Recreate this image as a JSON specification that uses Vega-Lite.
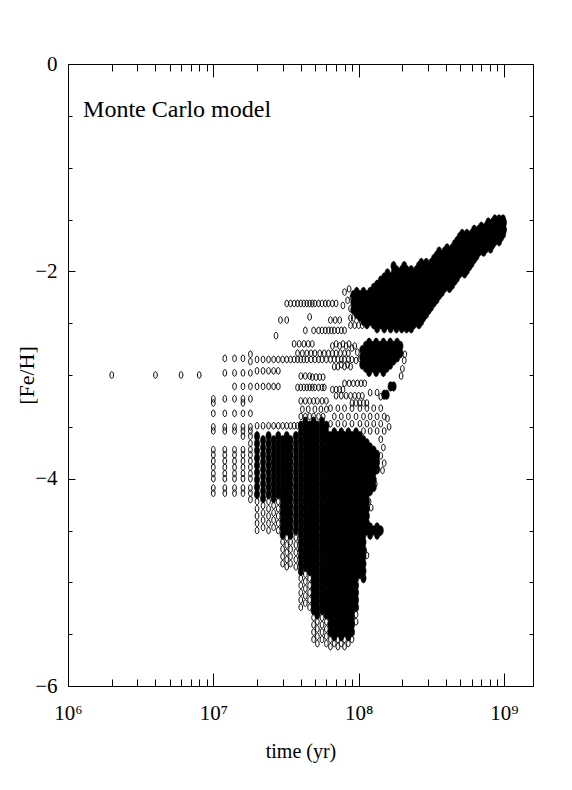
{
"$schema":"https://vega.github.io/schema/vega-lite/v6.json",
"width":465,"height":622,
"autosize":"none",
"padding":{"left":68,"top":64,"right":39,"bottom":104},
"background":"white",
"config":{
 "view":{"stroke":"black","strokeWidth":1},
 "axis":{"grid":false,"domain":false,"ticks":true,"tickColor":"black","tickWidth":1,"tickOpacity":1,"labelColor":"black","labelFont":"Liberation Serif","labelFontSize":21,"titleFont":"Liberation Serif","titleFontWeight":"normal","titleColor":"black","labelFlush":false,"labelOverlap":false,"zindex":1}
},
"datasets":{
"dense":[
{"t":20e6,"f":-3.59},{"t":20e6,"f":-3.66},{"t":20e6,"f":-3.73},{"t":20e6,"f":-3.8},{"t":20e6,"f":-3.87},{"t":20e6,"f":-3.94},{"t":20e6,"f":-4.01},{"t":20e6,"f":-4.08},{"t":20e6,"f":-4.15},
{"t":22e6,"f":-3.63},{"t":22e6,"f":-3.7},{"t":22e6,"f":-3.77},{"t":22e6,"f":-3.84},{"t":22e6,"f":-3.91},{"t":22e6,"f":-3.98},{"t":22e6,"f":-4.05},{"t":22e6,"f":-4.12},{"t":22e6,"f":-4.19},
{"t":24e6,"f":-3.59},{"t":24e6,"f":-3.66},{"t":24e6,"f":-3.73},{"t":24e6,"f":-3.8},{"t":24e6,"f":-3.87},{"t":24e6,"f":-3.94},{"t":24e6,"f":-4.01},{"t":24e6,"f":-4.08},{"t":24e6,"f":-4.15},
{"t":26e6,"f":-3.63},{"t":26e6,"f":-3.7},{"t":26e6,"f":-3.77},{"t":26e6,"f":-3.84},{"t":26e6,"f":-3.91},{"t":26e6,"f":-3.98},{"t":26e6,"f":-4.05},{"t":26e6,"f":-4.12},{"t":26e6,"f":-4.19},
{"t":28e6,"f":-3.59},{"t":28e6,"f":-3.66},{"t":28e6,"f":-3.73},{"t":28e6,"f":-3.8},{"t":28e6,"f":-3.87},{"t":28e6,"f":-3.94},{"t":28e6,"f":-4.01},{"t":28e6,"f":-4.08},{"t":28e6,"f":-4.15},
{"t":30e6,"f":-3.63},{"t":30e6,"f":-3.7},{"t":30e6,"f":-3.77},{"t":30e6,"f":-3.84},{"t":30e6,"f":-3.91},{"t":30e6,"f":-3.98},{"t":30e6,"f":-4.05},{"t":30e6,"f":-4.12},{"t":30e6,"f":-4.19},{"t":30e6,"f":-4.26},{"t":30e6,"f":-4.33},{"t":30e6,"f":-4.4},{"t":30e6,"f":-4.47},{"t":30e6,"f":-4.54},
{"t":32e6,"f":-3.59},{"t":32e6,"f":-3.66},{"t":32e6,"f":-3.73},{"t":32e6,"f":-3.8},{"t":32e6,"f":-3.87},{"t":32e6,"f":-3.94},{"t":32e6,"f":-4.01},{"t":32e6,"f":-4.08},{"t":32e6,"f":-4.15},{"t":32e6,"f":-4.22},{"t":32e6,"f":-4.29},{"t":32e6,"f":-4.36},{"t":32e6,"f":-4.43},{"t":32e6,"f":-4.5},
{"t":34e6,"f":-3.63},{"t":34e6,"f":-3.7},{"t":34e6,"f":-3.77},{"t":34e6,"f":-3.84},{"t":34e6,"f":-3.91},{"t":34e6,"f":-3.98},{"t":34e6,"f":-4.05},{"t":34e6,"f":-4.12},{"t":34e6,"f":-4.19},{"t":34e6,"f":-4.26},{"t":34e6,"f":-4.33},{"t":34e6,"f":-4.4},{"t":34e6,"f":-4.47},{"t":34e6,"f":-4.54},
{"t":37e6,"f":-3.59},{"t":37e6,"f":-3.66},{"t":37e6,"f":-3.73},{"t":37e6,"f":-3.8},{"t":37e6,"f":-3.87},{"t":37e6,"f":-3.94},{"t":37e6,"f":-4.01},{"t":37e6,"f":-4.08},{"t":37e6,"f":-4.15},{"t":37e6,"f":-4.22},{"t":37e6,"f":-4.29},{"t":37e6,"f":-4.36},{"t":37e6,"f":-4.43},{"t":37e6,"f":-4.5},
{"t":40e6,"f":-3.49},{"t":40e6,"f":-3.56},{"t":40e6,"f":-3.63},{"t":40e6,"f":-3.7},{"t":40e6,"f":-3.77},{"t":40e6,"f":-3.84},{"t":40e6,"f":-3.91},{"t":40e6,"f":-3.98},{"t":40e6,"f":-4.05},{"t":40e6,"f":-4.12},{"t":40e6,"f":-4.19},{"t":40e6,"f":-4.26},{"t":40e6,"f":-4.33},{"t":40e6,"f":-4.4},{"t":40e6,"f":-4.47},{"t":40e6,"f":-4.54},{"t":40e6,"f":-4.61},{"t":40e6,"f":-4.68},{"t":40e6,"f":-4.75},{"t":40e6,"f":-4.82},{"t":40e6,"f":-4.89},
{"t":43e6,"f":-3.45},{"t":43e6,"f":-3.52},{"t":43e6,"f":-3.59},{"t":43e6,"f":-3.66},{"t":43e6,"f":-3.73},{"t":43e6,"f":-3.8},{"t":43e6,"f":-3.87},{"t":43e6,"f":-3.94},{"t":43e6,"f":-4.01},{"t":43e6,"f":-4.08},{"t":43e6,"f":-4.15},{"t":43e6,"f":-4.22},{"t":43e6,"f":-4.29},{"t":43e6,"f":-4.36},{"t":43e6,"f":-4.43},{"t":43e6,"f":-4.5},{"t":43e6,"f":-4.57},{"t":43e6,"f":-4.64},{"t":43e6,"f":-4.71},{"t":43e6,"f":-4.78},{"t":43e6,"f":-4.85},
{"t":46e6,"f":-3.49},{"t":46e6,"f":-3.56},{"t":46e6,"f":-3.63},{"t":46e6,"f":-3.7},{"t":46e6,"f":-3.77},{"t":46e6,"f":-3.84},{"t":46e6,"f":-3.91},{"t":46e6,"f":-3.98},{"t":46e6,"f":-4.05},{"t":46e6,"f":-4.12},{"t":46e6,"f":-4.19},{"t":46e6,"f":-4.26},{"t":46e6,"f":-4.33},{"t":46e6,"f":-4.4},{"t":46e6,"f":-4.47},{"t":46e6,"f":-4.54},{"t":46e6,"f":-4.61},{"t":46e6,"f":-4.68},{"t":46e6,"f":-4.75},{"t":46e6,"f":-4.82},{"t":46e6,"f":-4.89},
{"t":49e6,"f":-3.45},{"t":49e6,"f":-3.52},{"t":49e6,"f":-3.59},{"t":49e6,"f":-3.66},{"t":49e6,"f":-3.73},{"t":49e6,"f":-3.8},{"t":49e6,"f":-3.87},{"t":49e6,"f":-3.94},{"t":49e6,"f":-4.01},{"t":49e6,"f":-4.08},{"t":49e6,"f":-4.15},{"t":49e6,"f":-4.22},{"t":49e6,"f":-4.29},{"t":49e6,"f":-4.36},{"t":49e6,"f":-4.43},{"t":49e6,"f":-4.5},{"t":49e6,"f":-4.57},{"t":49e6,"f":-4.64},{"t":49e6,"f":-4.71},{"t":49e6,"f":-4.78},{"t":49e6,"f":-4.85},{"t":49e6,"f":-4.92},{"t":49e6,"f":-4.99},{"t":49e6,"f":-5.06},{"t":49e6,"f":-5.13},{"t":49e6,"f":-5.2},{"t":49e6,"f":-5.27},
{"t":52e6,"f":-3.49},{"t":52e6,"f":-3.56},{"t":52e6,"f":-3.63},{"t":52e6,"f":-3.7},{"t":52e6,"f":-3.77},{"t":52e6,"f":-3.84},{"t":52e6,"f":-3.91},{"t":52e6,"f":-3.98},{"t":52e6,"f":-4.05},{"t":52e6,"f":-4.12},{"t":52e6,"f":-4.19},{"t":52e6,"f":-4.26},{"t":52e6,"f":-4.33},{"t":52e6,"f":-4.4},{"t":52e6,"f":-4.47},{"t":52e6,"f":-4.54},{"t":52e6,"f":-4.61},{"t":52e6,"f":-4.68},{"t":52e6,"f":-4.75},{"t":52e6,"f":-4.82},{"t":52e6,"f":-4.89},{"t":52e6,"f":-4.96},{"t":52e6,"f":-5.03},{"t":52e6,"f":-5.1},{"t":52e6,"f":-5.17},{"t":52e6,"f":-5.24},{"t":52e6,"f":-5.31},
{"t":56e6,"f":-3.45},{"t":56e6,"f":-3.52},{"t":56e6,"f":-3.59},{"t":56e6,"f":-3.66},{"t":56e6,"f":-3.73},{"t":56e6,"f":-3.8},{"t":56e6,"f":-3.87},{"t":56e6,"f":-3.94},{"t":56e6,"f":-4.01},{"t":56e6,"f":-4.08},{"t":56e6,"f":-4.15},{"t":56e6,"f":-4.22},{"t":56e6,"f":-4.29},{"t":56e6,"f":-4.36},{"t":56e6,"f":-4.43},{"t":56e6,"f":-4.5},{"t":56e6,"f":-4.57},{"t":56e6,"f":-4.64},{"t":56e6,"f":-4.71},{"t":56e6,"f":-4.78},{"t":56e6,"f":-4.85},{"t":56e6,"f":-4.92},{"t":56e6,"f":-4.99},{"t":56e6,"f":-5.06},{"t":56e6,"f":-5.13},{"t":56e6,"f":-5.2},{"t":56e6,"f":-5.27},
{"t":60e6,"f":-3.49},{"t":60e6,"f":-3.56},{"t":60e6,"f":-3.63},{"t":60e6,"f":-3.7},{"t":60e6,"f":-3.77},{"t":60e6,"f":-3.84},{"t":60e6,"f":-3.91},{"t":60e6,"f":-3.98},{"t":60e6,"f":-4.05},{"t":60e6,"f":-4.12},{"t":60e6,"f":-4.19},{"t":60e6,"f":-4.26},{"t":60e6,"f":-4.33},{"t":60e6,"f":-4.4},{"t":60e6,"f":-4.47},{"t":60e6,"f":-4.54},{"t":60e6,"f":-4.61},{"t":60e6,"f":-4.68},{"t":60e6,"f":-4.75},{"t":60e6,"f":-4.82},{"t":60e6,"f":-4.89},{"t":60e6,"f":-4.96},{"t":60e6,"f":-5.03},{"t":60e6,"f":-5.1},{"t":60e6,"f":-5.17},{"t":60e6,"f":-5.24},{"t":60e6,"f":-5.31},
{"t":64e6,"f":-3.59},{"t":64e6,"f":-3.66},{"t":64e6,"f":-3.73},{"t":64e6,"f":-3.8},{"t":64e6,"f":-3.87},{"t":64e6,"f":-3.94},{"t":64e6,"f":-4.01},{"t":64e6,"f":-4.08},{"t":64e6,"f":-4.15},{"t":64e6,"f":-4.22},{"t":64e6,"f":-4.29},{"t":64e6,"f":-4.36},{"t":64e6,"f":-4.43},{"t":64e6,"f":-4.5},{"t":64e6,"f":-4.57},{"t":64e6,"f":-4.64},{"t":64e6,"f":-4.71},{"t":64e6,"f":-4.78},{"t":64e6,"f":-4.85},{"t":64e6,"f":-4.92},{"t":64e6,"f":-4.99},{"t":64e6,"f":-5.06},{"t":64e6,"f":-5.13},{"t":64e6,"f":-5.2},{"t":64e6,"f":-5.27},{"t":64e6,"f":-5.34},{"t":64e6,"f":-5.41},{"t":64e6,"f":-5.48},
{"t":68e6,"f":-3.56},{"t":68e6,"f":-3.63},{"t":68e6,"f":-3.7},{"t":68e6,"f":-3.77},{"t":68e6,"f":-3.84},{"t":68e6,"f":-3.91},{"t":68e6,"f":-3.98},{"t":68e6,"f":-4.05},{"t":68e6,"f":-4.12},{"t":68e6,"f":-4.19},{"t":68e6,"f":-4.26},{"t":68e6,"f":-4.33},{"t":68e6,"f":-4.4},{"t":68e6,"f":-4.47},{"t":68e6,"f":-4.54},{"t":68e6,"f":-4.61},{"t":68e6,"f":-4.68},{"t":68e6,"f":-4.75},{"t":68e6,"f":-4.82},{"t":68e6,"f":-4.89},{"t":68e6,"f":-4.96},{"t":68e6,"f":-5.03},{"t":68e6,"f":-5.1},{"t":68e6,"f":-5.17},{"t":68e6,"f":-5.24},{"t":68e6,"f":-5.31},{"t":68e6,"f":-5.38},{"t":68e6,"f":-5.45},{"t":68e6,"f":-5.52},
{"t":72e6,"f":-3.59},{"t":72e6,"f":-3.66},{"t":72e6,"f":-3.73},{"t":72e6,"f":-3.8},{"t":72e6,"f":-3.87},{"t":72e6,"f":-3.94},{"t":72e6,"f":-4.01},{"t":72e6,"f":-4.08},{"t":72e6,"f":-4.15},{"t":72e6,"f":-4.22},{"t":72e6,"f":-4.29},{"t":72e6,"f":-4.36},{"t":72e6,"f":-4.43},{"t":72e6,"f":-4.5},{"t":72e6,"f":-4.57},{"t":72e6,"f":-4.64},{"t":72e6,"f":-4.71},{"t":72e6,"f":-4.78},{"t":72e6,"f":-4.85},{"t":72e6,"f":-4.92},{"t":72e6,"f":-4.99},{"t":72e6,"f":-5.06},{"t":72e6,"f":-5.13},{"t":72e6,"f":-5.2},{"t":72e6,"f":-5.27},{"t":72e6,"f":-5.34},{"t":72e6,"f":-5.41},{"t":72e6,"f":-5.48},
{"t":76e6,"f":-3.56},{"t":76e6,"f":-3.63},{"t":76e6,"f":-3.7},{"t":76e6,"f":-3.77},{"t":76e6,"f":-3.84},{"t":76e6,"f":-3.91},{"t":76e6,"f":-3.98},{"t":76e6,"f":-4.05},{"t":76e6,"f":-4.12},{"t":76e6,"f":-4.19},{"t":76e6,"f":-4.26},{"t":76e6,"f":-4.33},{"t":76e6,"f":-4.4},{"t":76e6,"f":-4.47},{"t":76e6,"f":-4.54},{"t":76e6,"f":-4.61},{"t":76e6,"f":-4.68},{"t":76e6,"f":-4.75},{"t":76e6,"f":-4.82},{"t":76e6,"f":-4.89},{"t":76e6,"f":-4.96},{"t":76e6,"f":-5.03},{"t":76e6,"f":-5.1},{"t":76e6,"f":-5.17},{"t":76e6,"f":-5.24},{"t":76e6,"f":-5.31},{"t":76e6,"f":-5.38},{"t":76e6,"f":-5.45},{"t":76e6,"f":-5.52},
{"t":80e6,"f":-3.59},{"t":80e6,"f":-3.66},{"t":80e6,"f":-3.73},{"t":80e6,"f":-3.8},{"t":80e6,"f":-3.87},{"t":80e6,"f":-3.94},{"t":80e6,"f":-4.01},{"t":80e6,"f":-4.08},{"t":80e6,"f":-4.15},{"t":80e6,"f":-4.22},{"t":80e6,"f":-4.29},{"t":80e6,"f":-4.36},{"t":80e6,"f":-4.43},{"t":80e6,"f":-4.5},{"t":80e6,"f":-4.57},{"t":80e6,"f":-4.64},{"t":80e6,"f":-4.71},{"t":80e6,"f":-4.78},{"t":80e6,"f":-4.85},{"t":80e6,"f":-4.92},{"t":80e6,"f":-4.99},{"t":80e6,"f":-5.06},{"t":80e6,"f":-5.13},{"t":80e6,"f":-5.2},{"t":80e6,"f":-5.27},{"t":80e6,"f":-5.34},{"t":80e6,"f":-5.41},{"t":80e6,"f":-5.48},
{"t":85e6,"f":-3.56},{"t":85e6,"f":-3.63},{"t":85e6,"f":-3.7},{"t":85e6,"f":-3.77},{"t":85e6,"f":-3.84},{"t":85e6,"f":-3.91},{"t":85e6,"f":-3.98},{"t":85e6,"f":-4.05},{"t":85e6,"f":-4.12},{"t":85e6,"f":-4.19},{"t":85e6,"f":-4.26},{"t":85e6,"f":-4.33},{"t":85e6,"f":-4.4},{"t":85e6,"f":-4.47},{"t":85e6,"f":-4.54},{"t":85e6,"f":-4.61},{"t":85e6,"f":-4.68},{"t":85e6,"f":-4.75},{"t":85e6,"f":-4.82},{"t":85e6,"f":-4.89},{"t":85e6,"f":-4.96},{"t":85e6,"f":-5.03},{"t":85e6,"f":-5.1},{"t":85e6,"f":-5.17},{"t":85e6,"f":-5.24},{"t":85e6,"f":-5.31},{"t":85e6,"f":-5.38},{"t":85e6,"f":-5.45},{"t":85e6,"f":-5.52},
{"t":90e6,"f":-3.59},{"t":90e6,"f":-3.66},{"t":90e6,"f":-3.73},{"t":90e6,"f":-3.8},{"t":90e6,"f":-3.87},{"t":90e6,"f":-3.94},{"t":90e6,"f":-4.01},{"t":90e6,"f":-4.08},{"t":90e6,"f":-4.15},{"t":90e6,"f":-4.22},{"t":90e6,"f":-4.29},{"t":90e6,"f":-4.36},{"t":90e6,"f":-4.43},{"t":90e6,"f":-4.5},{"t":90e6,"f":-4.57},{"t":90e6,"f":-4.64},{"t":90e6,"f":-4.71},{"t":90e6,"f":-4.78},{"t":90e6,"f":-4.85},{"t":90e6,"f":-4.92},{"t":90e6,"f":-4.99},{"t":90e6,"f":-5.06},{"t":90e6,"f":-5.13},{"t":90e6,"f":-5.2},{"t":90e6,"f":-5.27},{"t":90e6,"f":-5.34},{"t":90e6,"f":-5.41},{"t":90e6,"f":-5.48},
{"t":96e6,"f":-3.56},{"t":96e6,"f":-3.63},{"t":96e6,"f":-3.7},{"t":96e6,"f":-3.77},{"t":96e6,"f":-3.84},{"t":96e6,"f":-3.91},{"t":96e6,"f":-3.98},{"t":96e6,"f":-4.05},{"t":96e6,"f":-4.12},{"t":96e6,"f":-4.19},{"t":96e6,"f":-4.26},{"t":96e6,"f":-4.33},{"t":96e6,"f":-4.4},{"t":96e6,"f":-4.47},{"t":96e6,"f":-4.54},{"t":96e6,"f":-4.61},{"t":96e6,"f":-4.68},{"t":96e6,"f":-4.75},{"t":96e6,"f":-4.82},{"t":96e6,"f":-4.89},{"t":96e6,"f":-4.96},{"t":96e6,"f":-5.03},{"t":96e6,"f":-5.1},{"t":96e6,"f":-5.17},{"t":96e6,"f":-5.24},
{"t":102e6,"f":-3.59},{"t":102e6,"f":-3.66},{"t":102e6,"f":-3.73},{"t":102e6,"f":-3.8},{"t":102e6,"f":-3.87},{"t":102e6,"f":-3.94},{"t":102e6,"f":-4.01},{"t":102e6,"f":-4.08},{"t":102e6,"f":-4.15},{"t":102e6,"f":-4.22},{"t":102e6,"f":-4.29},{"t":102e6,"f":-4.36},{"t":102e6,"f":-4.43},{"t":102e6,"f":-4.5},{"t":102e6,"f":-4.57},{"t":102e6,"f":-4.64},{"t":102e6,"f":-4.71},{"t":102e6,"f":-4.78},{"t":102e6,"f":-4.85},{"t":102e6,"f":-4.92},
{"t":108e6,"f":-3.63},{"t":108e6,"f":-3.7},{"t":108e6,"f":-3.77},{"t":108e6,"f":-3.84},{"t":108e6,"f":-3.91},{"t":108e6,"f":-3.98},{"t":108e6,"f":-4.05},{"t":108e6,"f":-4.12},{"t":108e6,"f":-4.19},{"t":108e6,"f":-4.26},{"t":108e6,"f":-4.33},{"t":108e6,"f":-4.4},{"t":108e6,"f":-4.47},{"t":108e6,"f":-4.54},{"t":108e6,"f":-4.61},{"t":108e6,"f":-4.68},{"t":108e6,"f":-4.75},{"t":108e6,"f":-4.82},{"t":108e6,"f":-4.89},{"t":108e6,"f":-4.96},
{"t":114e6,"f":-3.66},{"t":114e6,"f":-3.73},{"t":114e6,"f":-3.8},{"t":114e6,"f":-3.87},{"t":114e6,"f":-3.94},{"t":114e6,"f":-4.01},{"t":114e6,"f":-4.08},{"t":114e6,"f":-4.15},{"t":114e6,"f":-4.22},{"t":114e6,"f":-4.29},{"t":114e6,"f":-4.36},{"t":114e6,"f":-4.43},{"t":114e6,"f":-4.5},
{"t":120e6,"f":-3.7},{"t":120e6,"f":-3.77},{"t":120e6,"f":-3.84},{"t":120e6,"f":-3.91},{"t":120e6,"f":-3.98},{"t":120e6,"f":-4.05},{"t":120e6,"f":-4.12},{"t":120e6,"f":-4.47},{"t":120e6,"f":-4.54},
{"t":127e6,"f":-3.73},{"t":127e6,"f":-3.8},{"t":127e6,"f":-3.87},{"t":127e6,"f":-3.94},{"t":127e6,"f":-4.01},{"t":127e6,"f":-4.08},{"t":127e6,"f":-4.5},
{"t":134e6,"f":-3.77},{"t":134e6,"f":-3.84},{"t":134e6,"f":-3.91},{"t":134e6,"f":-4.47},{"t":134e6,"f":-4.54},
{"t":142e6,"f":-4.5},
{"t":92e6,"f":-2.23},{"t":92e6,"f":-2.3},{"t":92e6,"f":-2.37},
{"t":97e6,"f":-2.2},{"t":97e6,"f":-2.27},{"t":97e6,"f":-2.34},{"t":97e6,"f":-2.41},
{"t":102e6,"f":-2.23},{"t":102e6,"f":-2.3},{"t":102e6,"f":-2.37},{"t":102e6,"f":-2.44},
{"t":108e6,"f":-2.2},{"t":108e6,"f":-2.27},{"t":108e6,"f":-2.34},{"t":108e6,"f":-2.41},{"t":108e6,"f":-2.48},
{"t":114e6,"f":-2.23},{"t":114e6,"f":-2.3},{"t":114e6,"f":-2.37},{"t":114e6,"f":-2.44},{"t":114e6,"f":-2.51},
{"t":120e6,"f":-2.2},{"t":120e6,"f":-2.27},{"t":120e6,"f":-2.34},{"t":120e6,"f":-2.41},{"t":120e6,"f":-2.48},
{"t":127e6,"f":-2.16},{"t":127e6,"f":-2.23},{"t":127e6,"f":-2.3},{"t":127e6,"f":-2.37},{"t":127e6,"f":-2.44},{"t":127e6,"f":-2.51},
{"t":134e6,"f":-2.13},{"t":134e6,"f":-2.2},{"t":134e6,"f":-2.27},{"t":134e6,"f":-2.34},{"t":134e6,"f":-2.41},{"t":134e6,"f":-2.48},{"t":134e6,"f":-2.55},
{"t":142e6,"f":-2.09},{"t":142e6,"f":-2.16},{"t":142e6,"f":-2.23},{"t":142e6,"f":-2.3},{"t":142e6,"f":-2.37},{"t":142e6,"f":-2.44},{"t":142e6,"f":-2.51},
{"t":150e6,"f":-2.06},{"t":150e6,"f":-2.13},{"t":150e6,"f":-2.2},{"t":150e6,"f":-2.27},{"t":150e6,"f":-2.34},{"t":150e6,"f":-2.41},{"t":150e6,"f":-2.48},{"t":150e6,"f":-2.55},
{"t":158e6,"f":-2.02},{"t":158e6,"f":-2.09},{"t":158e6,"f":-2.16},{"t":158e6,"f":-2.23},{"t":158e6,"f":-2.3},{"t":158e6,"f":-2.37},{"t":158e6,"f":-2.44},{"t":158e6,"f":-2.51},
{"t":166e6,"f":-2.06},{"t":166e6,"f":-2.13},{"t":166e6,"f":-2.2},{"t":166e6,"f":-2.27},{"t":166e6,"f":-2.34},{"t":166e6,"f":-2.41},{"t":166e6,"f":-2.48},{"t":166e6,"f":-2.55},
{"t":174e6,"f":-1.95},{"t":174e6,"f":-2.02},{"t":174e6,"f":-2.09},{"t":174e6,"f":-2.16},{"t":174e6,"f":-2.23},{"t":174e6,"f":-2.3},{"t":174e6,"f":-2.37},{"t":174e6,"f":-2.44},{"t":174e6,"f":-2.51},
{"t":182e6,"f":-1.99},{"t":182e6,"f":-2.06},{"t":182e6,"f":-2.13},{"t":182e6,"f":-2.2},{"t":182e6,"f":-2.27},{"t":182e6,"f":-2.34},{"t":182e6,"f":-2.41},{"t":182e6,"f":-2.48},{"t":182e6,"f":-2.55},
{"t":190e6,"f":-2.02},{"t":190e6,"f":-2.09},{"t":190e6,"f":-2.16},{"t":190e6,"f":-2.23},{"t":190e6,"f":-2.3},{"t":190e6,"f":-2.37},{"t":190e6,"f":-2.44},{"t":190e6,"f":-2.51},
{"t":198e6,"f":-1.99},{"t":198e6,"f":-2.06},{"t":198e6,"f":-2.13},{"t":198e6,"f":-2.2},{"t":198e6,"f":-2.27},{"t":198e6,"f":-2.34},{"t":198e6,"f":-2.41},{"t":198e6,"f":-2.48},{"t":198e6,"f":-2.55},
{"t":206e6,"f":-1.95},{"t":206e6,"f":-2.02},{"t":206e6,"f":-2.09},{"t":206e6,"f":-2.16},{"t":206e6,"f":-2.23},{"t":206e6,"f":-2.3},{"t":206e6,"f":-2.37},{"t":206e6,"f":-2.44},{"t":206e6,"f":-2.51},
{"t":214e6,"f":-1.99},{"t":214e6,"f":-2.06},{"t":214e6,"f":-2.13},{"t":214e6,"f":-2.2},{"t":214e6,"f":-2.27},{"t":214e6,"f":-2.34},{"t":214e6,"f":-2.41},{"t":214e6,"f":-2.48},{"t":214e6,"f":-2.55},
{"t":222e6,"f":-2.02},{"t":222e6,"f":-2.09},{"t":222e6,"f":-2.16},{"t":222e6,"f":-2.23},{"t":222e6,"f":-2.3},{"t":222e6,"f":-2.37},{"t":222e6,"f":-2.44},{"t":222e6,"f":-2.51},
{"t":230e6,"f":-1.99},{"t":230e6,"f":-2.06},{"t":230e6,"f":-2.13},{"t":230e6,"f":-2.2},{"t":230e6,"f":-2.27},{"t":230e6,"f":-2.34},{"t":230e6,"f":-2.41},{"t":230e6,"f":-2.48},{"t":230e6,"f":-2.55},
{"t":240e6,"f":-2.02},{"t":240e6,"f":-2.09},{"t":240e6,"f":-2.16},{"t":240e6,"f":-2.23},{"t":240e6,"f":-2.3},{"t":240e6,"f":-2.37},{"t":240e6,"f":-2.44},{"t":240e6,"f":-2.51},
{"t":250e6,"f":-1.99},{"t":250e6,"f":-2.06},{"t":250e6,"f":-2.13},{"t":250e6,"f":-2.2},{"t":250e6,"f":-2.27},{"t":250e6,"f":-2.34},{"t":250e6,"f":-2.41},{"t":250e6,"f":-2.48},
{"t":260e6,"f":-1.95},{"t":260e6,"f":-2.02},{"t":260e6,"f":-2.09},{"t":260e6,"f":-2.16},{"t":260e6,"f":-2.23},{"t":260e6,"f":-2.3},{"t":260e6,"f":-2.37},{"t":260e6,"f":-2.44},{"t":260e6,"f":-2.51},
{"t":270e6,"f":-1.92},{"t":270e6,"f":-1.99},{"t":270e6,"f":-2.06},{"t":270e6,"f":-2.13},{"t":270e6,"f":-2.2},{"t":270e6,"f":-2.27},{"t":270e6,"f":-2.34},{"t":270e6,"f":-2.41},{"t":270e6,"f":-2.48},
{"t":280e6,"f":-1.95},{"t":280e6,"f":-2.02},{"t":280e6,"f":-2.09},{"t":280e6,"f":-2.16},{"t":280e6,"f":-2.23},{"t":280e6,"f":-2.3},{"t":280e6,"f":-2.37},{"t":280e6,"f":-2.44},
{"t":292e6,"f":-1.92},{"t":292e6,"f":-1.99},{"t":292e6,"f":-2.06},{"t":292e6,"f":-2.13},{"t":292e6,"f":-2.2},{"t":292e6,"f":-2.27},{"t":292e6,"f":-2.34},{"t":292e6,"f":-2.41},
{"t":304e6,"f":-1.95},{"t":304e6,"f":-2.02},{"t":304e6,"f":-2.09},{"t":304e6,"f":-2.16},{"t":304e6,"f":-2.23},{"t":304e6,"f":-2.3},{"t":304e6,"f":-2.37},
{"t":316e6,"f":-1.92},{"t":316e6,"f":-1.99},{"t":316e6,"f":-2.06},{"t":316e6,"f":-2.13},{"t":316e6,"f":-2.2},{"t":316e6,"f":-2.27},{"t":316e6,"f":-2.34},
{"t":330e6,"f":-1.88},{"t":330e6,"f":-1.95},{"t":330e6,"f":-2.02},{"t":330e6,"f":-2.09},{"t":330e6,"f":-2.16},{"t":330e6,"f":-2.23},{"t":330e6,"f":-2.3},
{"t":344e6,"f":-1.85},{"t":344e6,"f":-1.92},{"t":344e6,"f":-1.99},{"t":344e6,"f":-2.06},{"t":344e6,"f":-2.13},{"t":344e6,"f":-2.2},{"t":344e6,"f":-2.27},
{"t":358e6,"f":-1.81},{"t":358e6,"f":-1.88},{"t":358e6,"f":-1.95},{"t":358e6,"f":-2.02},{"t":358e6,"f":-2.09},{"t":358e6,"f":-2.16},{"t":358e6,"f":-2.23},
{"t":374e6,"f":-1.85},{"t":374e6,"f":-1.92},{"t":374e6,"f":-1.99},{"t":374e6,"f":-2.06},{"t":374e6,"f":-2.13},{"t":374e6,"f":-2.2},
{"t":390e6,"f":-1.81},{"t":390e6,"f":-1.88},{"t":390e6,"f":-1.95},{"t":390e6,"f":-2.02},{"t":390e6,"f":-2.09},{"t":390e6,"f":-2.16},
{"t":406e6,"f":-1.78},{"t":406e6,"f":-1.85},{"t":406e6,"f":-1.92},{"t":406e6,"f":-1.99},{"t":406e6,"f":-2.06},{"t":406e6,"f":-2.13},
{"t":422e6,"f":-1.81},{"t":422e6,"f":-1.88},{"t":422e6,"f":-1.95},{"t":422e6,"f":-2.02},{"t":422e6,"f":-2.09},{"t":422e6,"f":-2.16},
{"t":440e6,"f":-1.78},{"t":440e6,"f":-1.85},{"t":440e6,"f":-1.92},{"t":440e6,"f":-1.99},{"t":440e6,"f":-2.06},{"t":440e6,"f":-2.13},
{"t":458e6,"f":-1.74},{"t":458e6,"f":-1.81},{"t":458e6,"f":-1.88},{"t":458e6,"f":-1.95},{"t":458e6,"f":-2.02},{"t":458e6,"f":-2.09},
{"t":476e6,"f":-1.71},{"t":476e6,"f":-1.78},{"t":476e6,"f":-1.85},{"t":476e6,"f":-1.92},{"t":476e6,"f":-1.99},{"t":476e6,"f":-2.06},
{"t":496e6,"f":-1.67},{"t":496e6,"f":-1.74},{"t":496e6,"f":-1.81},{"t":496e6,"f":-1.88},{"t":496e6,"f":-1.95},{"t":496e6,"f":-2.02},
{"t":516e6,"f":-1.64},{"t":516e6,"f":-1.71},{"t":516e6,"f":-1.78},{"t":516e6,"f":-1.85},{"t":516e6,"f":-1.92},{"t":516e6,"f":-1.99},
{"t":536e6,"f":-1.67},{"t":536e6,"f":-1.74},{"t":536e6,"f":-1.81},{"t":536e6,"f":-1.88},{"t":536e6,"f":-1.95},{"t":536e6,"f":-2.02},
{"t":556e6,"f":-1.64},{"t":556e6,"f":-1.71},{"t":556e6,"f":-1.78},{"t":556e6,"f":-1.85},{"t":556e6,"f":-1.92},{"t":556e6,"f":-1.99},
{"t":578e6,"f":-1.67},{"t":578e6,"f":-1.74},{"t":578e6,"f":-1.81},{"t":578e6,"f":-1.88},{"t":578e6,"f":-1.95},
{"t":600e6,"f":-1.64},{"t":600e6,"f":-1.71},{"t":600e6,"f":-1.78},{"t":600e6,"f":-1.85},{"t":600e6,"f":-1.92},
{"t":624e6,"f":-1.6},{"t":624e6,"f":-1.67},{"t":624e6,"f":-1.74},{"t":624e6,"f":-1.81},{"t":624e6,"f":-1.88},
{"t":648e6,"f":-1.64},{"t":648e6,"f":-1.71},{"t":648e6,"f":-1.78},{"t":648e6,"f":-1.85},
{"t":672e6,"f":-1.6},{"t":672e6,"f":-1.67},{"t":672e6,"f":-1.74},{"t":672e6,"f":-1.81},
{"t":698e6,"f":-1.57},{"t":698e6,"f":-1.64},{"t":698e6,"f":-1.71},{"t":698e6,"f":-1.78},
{"t":724e6,"f":-1.6},{"t":724e6,"f":-1.67},{"t":724e6,"f":-1.74},{"t":724e6,"f":-1.81},
{"t":752e6,"f":-1.57},{"t":752e6,"f":-1.64},{"t":752e6,"f":-1.71},{"t":752e6,"f":-1.78},
{"t":780e6,"f":-1.53},{"t":780e6,"f":-1.6},{"t":780e6,"f":-1.67},{"t":780e6,"f":-1.74},
{"t":808e6,"f":-1.57},{"t":808e6,"f":-1.64},{"t":808e6,"f":-1.71},{"t":808e6,"f":-1.78},
{"t":836e6,"f":-1.53},{"t":836e6,"f":-1.6},{"t":836e6,"f":-1.67},{"t":836e6,"f":-1.74},
{"t":866e6,"f":-1.5},{"t":866e6,"f":-1.57},{"t":866e6,"f":-1.64},{"t":866e6,"f":-1.71},
{"t":896e6,"f":-1.53},{"t":896e6,"f":-1.6},{"t":896e6,"f":-1.67},
{"t":926e6,"f":-1.5},{"t":926e6,"f":-1.57},{"t":926e6,"f":-1.64},{"t":926e6,"f":-1.71},
{"t":956e6,"f":-1.53},{"t":956e6,"f":-1.6},{"t":956e6,"f":-1.67},
{"t":986e6,"f":-1.5},{"t":986e6,"f":-1.57},{"t":986e6,"f":-1.64},
{"t":1000e6,"f":-1.53},{"t":1000e6,"f":-1.6},
{"t":106e6,"f":-2.76},{"t":106e6,"f":-2.83},{"t":106e6,"f":-2.9},
{"t":112e6,"f":-2.72},{"t":112e6,"f":-2.79},{"t":112e6,"f":-2.86},{"t":112e6,"f":-2.93},
{"t":118e6,"f":-2.69},{"t":118e6,"f":-2.76},{"t":118e6,"f":-2.83},{"t":118e6,"f":-2.9},{"t":118e6,"f":-2.97},
{"t":125e6,"f":-2.72},{"t":125e6,"f":-2.79},{"t":125e6,"f":-2.86},{"t":125e6,"f":-2.93},
{"t":132e6,"f":-2.69},{"t":132e6,"f":-2.76},{"t":132e6,"f":-2.83},{"t":132e6,"f":-2.9},{"t":132e6,"f":-2.97},
{"t":140e6,"f":-2.72},{"t":140e6,"f":-2.79},{"t":140e6,"f":-2.86},{"t":140e6,"f":-2.93},
{"t":148e6,"f":-2.69},{"t":148e6,"f":-2.76},{"t":148e6,"f":-2.83},{"t":148e6,"f":-2.9},{"t":148e6,"f":-2.97},
{"t":156e6,"f":-2.72},{"t":156e6,"f":-2.79},{"t":156e6,"f":-2.86},{"t":156e6,"f":-2.93},
{"t":165e6,"f":-2.69},{"t":165e6,"f":-2.76},{"t":165e6,"f":-2.83},{"t":165e6,"f":-2.9},
{"t":174e6,"f":-2.72},{"t":174e6,"f":-2.79},{"t":174e6,"f":-2.86},
{"t":184e6,"f":-2.69},{"t":184e6,"f":-2.76},{"t":184e6,"f":-2.83},
{"t":194e6,"f":-2.72},{"t":194e6,"f":-2.79},
{"t":166e6,"f":-3.11},{"t":174e6,"f":-3.11},{"t":150e6,"f":-3.19},{"t":156e6,"f":-3.19}
],
"stars":[
{"t":2e6,"f":-3},{"t":4e6,"f":-3},{"t":6e6,"f":-3},{"t":8e6,"f":-3},
{"t":10e6,"f":-3.23},{"t":10e6,"f":-3.27},{"t":10e6,"f":-3.37},{"t":10e6,"f":-3.5},{"t":10e6,"f":-3.54},{"t":10e6,"f":-3.72},{"t":10e6,"f":-3.77},{"t":10e6,"f":-3.83},{"t":10e6,"f":-3.89},{"t":10e6,"f":-3.95},{"t":10e6,"f":-4},{"t":10e6,"f":-4.09},{"t":10e6,"f":-4.14},
{"t":12e6,"f":-2.84},{"t":12e6,"f":-2.98},{"t":12e6,"f":-3.23},{"t":12e6,"f":-3.37},{"t":12e6,"f":-3.5},{"t":12e6,"f":-3.54},{"t":12e6,"f":-3.72},{"t":12e6,"f":-3.77},{"t":12e6,"f":-3.83},{"t":12e6,"f":-3.89},{"t":12e6,"f":-3.95},{"t":12e6,"f":-4},{"t":12e6,"f":-4.09},{"t":12e6,"f":-4.14},
{"t":14e6,"f":-2.84},{"t":14e6,"f":-2.98},{"t":14e6,"f":-3.11},{"t":14e6,"f":-3.23},{"t":14e6,"f":-3.37},{"t":14e6,"f":-3.5},{"t":14e6,"f":-3.54},{"t":14e6,"f":-3.72},{"t":14e6,"f":-3.77},{"t":14e6,"f":-3.83},{"t":14e6,"f":-3.89},{"t":14e6,"f":-3.95},{"t":14e6,"f":-4},{"t":14e6,"f":-4.09},{"t":14e6,"f":-4.14},
{"t":16e6,"f":-2.84},{"t":16e6,"f":-2.98},{"t":16e6,"f":-3.11},{"t":16e6,"f":-3.23},{"t":16e6,"f":-3.27},{"t":16e6,"f":-3.37},{"t":16e6,"f":-3.5},{"t":16e6,"f":-3.54},{"t":16e6,"f":-3.59},{"t":16e6,"f":-3.72},{"t":16e6,"f":-3.77},{"t":16e6,"f":-3.83},{"t":16e6,"f":-3.89},{"t":16e6,"f":-3.95},{"t":16e6,"f":-4},{"t":16e6,"f":-4.09},{"t":16e6,"f":-4.14},
{"t":18e6,"f":-2.8},{"t":18e6,"f":-2.87},{"t":18e6,"f":-2.98},{"t":18e6,"f":-3.11},{"t":18e6,"f":-3.23},{"t":18e6,"f":-3.37},{"t":18e6,"f":-3.5},{"t":18e6,"f":-3.54},{"t":18e6,"f":-3.59},{"t":18e6,"f":-3.66},{"t":18e6,"f":-3.72},{"t":18e6,"f":-3.77},{"t":18e6,"f":-3.83},{"t":18e6,"f":-3.89},{"t":18e6,"f":-3.95},{"t":18e6,"f":-4},{"t":18e6,"f":-4.09},{"t":18e6,"f":-4.14},{"t":18e6,"f":-4.2},
{"t":20e6,"f":-2.85},{"t":22e6,"f":-2.85},{"t":24e6,"f":-2.85},{"t":26e6,"f":-2.85},{"t":28e6,"f":-2.85},{"t":30e6,"f":-2.85},{"t":32e6,"f":-2.85},{"t":34e6,"f":-2.85},{"t":36e6,"f":-2.85},{"t":38e6,"f":-2.85},{"t":40e6,"f":-2.85},{"t":42e6,"f":-2.85},{"t":44e6,"f":-2.85},{"t":47e6,"f":-2.85},{"t":50e6,"f":-2.85},{"t":53e6,"f":-2.85},{"t":56e6,"f":-2.85},{"t":60e6,"f":-2.85},{"t":64e6,"f":-2.85},{"t":68e6,"f":-2.85},{"t":72e6,"f":-2.85},{"t":76e6,"f":-2.85},{"t":80e6,"f":-2.85},{"t":85e6,"f":-2.85},{"t":90e6,"f":-2.85},
{"t":38e6,"f":-2.79},{"t":41e6,"f":-2.79},{"t":44e6,"f":-2.79},{"t":47e6,"f":-2.79},{"t":50e6,"f":-2.79},{"t":54e6,"f":-2.79},{"t":58e6,"f":-2.79},{"t":62e6,"f":-2.79},{"t":66e6,"f":-2.79},{"t":70e6,"f":-2.79},{"t":75e6,"f":-2.79},{"t":80e6,"f":-2.79},{"t":85e6,"f":-2.79},
{"t":20e6,"f":-2.96},{"t":22e6,"f":-2.96},{"t":24e6,"f":-2.96},{"t":26e6,"f":-2.96},{"t":28e6,"f":-2.96},
{"t":20e6,"f":-3.11},{"t":22e6,"f":-3.11},{"t":24e6,"f":-3.11},{"t":26e6,"f":-3.11},{"t":28e6,"f":-3.11},
{"t":38e6,"f":-3.12},{"t":40e6,"f":-3.12},{"t":42e6,"f":-3.12},{"t":44e6,"f":-3.12},{"t":46e6,"f":-3.12},{"t":48e6,"f":-3.12},{"t":50e6,"f":-3.12},{"t":53e6,"f":-3.12},{"t":56e6,"f":-3.12},{"t":58e6,"f":-3.12},
{"t":66e6,"f":-3.14},{"t":70e6,"f":-3.14},{"t":74e6,"f":-3.14},{"t":78e6,"f":-3.14},
{"t":80e6,"f":-3.08},{"t":86e6,"f":-3.08},{"t":92e6,"f":-3.08},{"t":98e6,"f":-3.08},{"t":104e6,"f":-3.08},{"t":110e6,"f":-3.08},
{"t":70e6,"f":-3.2},{"t":76e6,"f":-3.2},{"t":82e6,"f":-3.2},{"t":88e6,"f":-3.2},{"t":94e6,"f":-3.2},{"t":100e6,"f":-3.2},{"t":106e6,"f":-3.2},
{"t":40e6,"f":-3.01},{"t":43e6,"f":-3.01},{"t":46e6,"f":-3.01},{"t":48e6,"f":-3.02},{"t":51e6,"f":-3.02},{"t":54e6,"f":-3.02},{"t":57e6,"f":-3.02},
{"t":40e6,"f":-3.25},{"t":43e6,"f":-3.25},{"t":46e6,"f":-3.25},{"t":49e6,"f":-3.25},{"t":52e6,"f":-3.25},{"t":56e6,"f":-3.25},{"t":60e6,"f":-3.25},
{"t":41e6,"f":-3.33},{"t":45e6,"f":-3.33},{"t":50e6,"f":-3.33},{"t":55e6,"f":-3.33},{"t":60e6,"f":-3.33},
{"t":40e6,"f":-3.4},{"t":43e6,"f":-3.4},{"t":46e6,"f":-3.4},{"t":49e6,"f":-3.4},{"t":53e6,"f":-3.4},{"t":57e6,"f":-3.4},
{"t":20e6,"f":-3.49},{"t":22e6,"f":-3.49},{"t":24e6,"f":-3.49},{"t":26e6,"f":-3.49},{"t":28e6,"f":-3.49},{"t":30e6,"f":-3.49},{"t":32e6,"f":-3.49},{"t":34e6,"f":-3.49},{"t":36e6,"f":-3.49},{"t":38e6,"f":-3.49},
{"t":32e6,"f":-2.31},{"t":34e6,"f":-2.31},{"t":36e6,"f":-2.31},{"t":38e6,"f":-2.31},{"t":40e6,"f":-2.31},{"t":42e6,"f":-2.31},{"t":44e6,"f":-2.31},{"t":46e6,"f":-2.31},{"t":48e6,"f":-2.31},{"t":50e6,"f":-2.31},{"t":53e6,"f":-2.31},{"t":56e6,"f":-2.31},{"t":59e6,"f":-2.31},{"t":62e6,"f":-2.31},{"t":66e6,"f":-2.31},{"t":70e6,"f":-2.31},
{"t":29e6,"f":-2.47},{"t":32e6,"f":-2.47},{"t":46e6,"f":-2.44},{"t":27e6,"f":-2.62},
{"t":43e6,"f":-2.57},{"t":49e6,"f":-2.57},{"t":53e6,"f":-2.57},{"t":56e6,"f":-2.57},{"t":59e6,"f":-2.57},{"t":62e6,"f":-2.57},{"t":65e6,"f":-2.57},{"t":68e6,"f":-2.57},{"t":72e6,"f":-2.57},{"t":76e6,"f":-2.57},{"t":80e6,"f":-2.57},
{"t":36e6,"f":-2.7},{"t":39e6,"f":-2.7},{"t":42e6,"f":-2.7},{"t":45e6,"f":-2.7},{"t":48e6,"f":-2.7},
{"t":78e6,"f":-2.33},{"t":80e6,"f":-2.2},{"t":84e6,"f":-2.28},{"t":86e6,"f":-2.17},{"t":88e6,"f":-2.36},{"t":90e6,"f":-2.25},
{"t":88e6,"f":-2.52},{"t":94e6,"f":-2.52},{"t":100e6,"f":-2.52},{"t":106e6,"f":-2.52},
{"t":64e6,"f":-2.47},{"t":69e6,"f":-2.47},{"t":74e6,"f":-2.47},{"t":88e6,"f":-2.45},{"t":92e6,"f":-2.45},
{"t":66e6,"f":-2.72},{"t":70e6,"f":-2.7},{"t":74e6,"f":-2.72},{"t":78e6,"f":-2.7},{"t":82e6,"f":-2.72},{"t":86e6,"f":-2.7},{"t":90e6,"f":-2.74},
{"t":68e6,"f":-2.92},{"t":72e6,"f":-2.92},{"t":76e6,"f":-2.9},{"t":80e6,"f":-2.92},{"t":84e6,"f":-2.9},{"t":88e6,"f":-2.92},
{"t":94e6,"f":-2.72},{"t":98e6,"f":-2.78},{"t":102e6,"f":-2.84},{"t":96e6,"f":-2.86},
{"t":90e6,"f":-3.27},{"t":96e6,"f":-3.27},{"t":102e6,"f":-3.27},{"t":108e6,"f":-3.27},{"t":114e6,"f":-3.27},
{"t":208e6,"f":-2.8},{"t":206e6,"f":-2.86},{"t":200e6,"f":-2.94},{"t":196e6,"f":-3.01},
{"t":134e6,"f":-3.17},{"t":142e6,"f":-3.21},{"t":120e6,"f":-3.17},
{"t":64e6,"f":-3.32},{"t":72e6,"f":-3.32},{"t":80e6,"f":-3.32},{"t":90e6,"f":-3.32},{"t":102e6,"f":-3.32},{"t":114e6,"f":-3.32},{"t":127e6,"f":-3.32},{"t":142e6,"f":-3.32},
{"t":68e6,"f":-3.4},{"t":76e6,"f":-3.4},{"t":85e6,"f":-3.4},{"t":96e6,"f":-3.4},{"t":108e6,"f":-3.4},{"t":120e6,"f":-3.4},{"t":134e6,"f":-3.4},{"t":150e6,"f":-3.4},
{"t":64e6,"f":-3.47},{"t":72e6,"f":-3.47},{"t":80e6,"f":-3.47},{"t":90e6,"f":-3.47},{"t":102e6,"f":-3.47},{"t":114e6,"f":-3.47},{"t":127e6,"f":-3.47},{"t":142e6,"f":-3.47},
{"t":68e6,"f":-3.54},{"t":76e6,"f":-3.54},{"t":85e6,"f":-3.54},{"t":96e6,"f":-3.54},{"t":108e6,"f":-3.54},{"t":120e6,"f":-3.54},{"t":134e6,"f":-3.54},{"t":150e6,"f":-3.54},
{"t":142e6,"f":-3.62},{"t":148e6,"f":-3.7},{"t":142e6,"f":-3.78},{"t":150e6,"f":-3.85},{"t":146e6,"f":-3.92},{"t":158e6,"f":-3.42},{"t":162e6,"f":-3.5},
{"t":118e6,"f":-4.22},{"t":122e6,"f":-4.28},{"t":110e6,"f":-4.7},{"t":114e6,"f":-4.74},{"t":140e6,"f":-4.52},{"t":124e6,"f":-4.03},{"t":130e6,"f":-4.05},
{"t":20e6,"f":-4.22},{"t":20e6,"f":-4.29},{"t":20e6,"f":-4.36},{"t":20e6,"f":-4.43},{"t":20e6,"f":-4.5},
{"t":22e6,"f":-4.26},{"t":22e6,"f":-4.33},{"t":22e6,"f":-4.4},{"t":22e6,"f":-4.47},
{"t":24e6,"f":-4.22},{"t":24e6,"f":-4.29},{"t":24e6,"f":-4.36},{"t":24e6,"f":-4.43},{"t":24e6,"f":-4.5},
{"t":26e6,"f":-4.26},{"t":26e6,"f":-4.33},{"t":26e6,"f":-4.4},{"t":26e6,"f":-4.47},
{"t":28e6,"f":-4.22},{"t":28e6,"f":-4.29},{"t":28e6,"f":-4.36},{"t":28e6,"f":-4.43},{"t":28e6,"f":-4.5},
{"t":30e6,"f":-4.61},{"t":30e6,"f":-4.68},{"t":30e6,"f":-4.75},{"t":30e6,"f":-4.82},
{"t":32e6,"f":-4.57},{"t":32e6,"f":-4.64},{"t":32e6,"f":-4.71},{"t":32e6,"f":-4.78},{"t":32e6,"f":-4.85},
{"t":34e6,"f":-4.61},{"t":34e6,"f":-4.68},{"t":34e6,"f":-4.75},{"t":34e6,"f":-4.82},
{"t":37e6,"f":-4.57},{"t":37e6,"f":-4.64},{"t":37e6,"f":-4.71},{"t":37e6,"f":-4.78},{"t":37e6,"f":-4.85},
{"t":40e6,"f":-4.96},{"t":40e6,"f":-5.03},{"t":40e6,"f":-5.1},{"t":40e6,"f":-5.17},{"t":40e6,"f":-5.24},
{"t":43e6,"f":-4.92},{"t":43e6,"f":-4.99},{"t":43e6,"f":-5.06},{"t":43e6,"f":-5.13},{"t":43e6,"f":-5.2},
{"t":46e6,"f":-4.96},{"t":46e6,"f":-5.03},{"t":46e6,"f":-5.1},{"t":46e6,"f":-5.17},{"t":46e6,"f":-5.24},
{"t":49e6,"f":-5.34},{"t":49e6,"f":-5.41},{"t":49e6,"f":-5.48},{"t":49e6,"f":-5.55},
{"t":52e6,"f":-5.38},{"t":52e6,"f":-5.45},{"t":52e6,"f":-5.52},{"t":52e6,"f":-5.59},
{"t":56e6,"f":-5.34},{"t":56e6,"f":-5.41},{"t":56e6,"f":-5.48},{"t":56e6,"f":-5.55},
{"t":60e6,"f":-5.38},{"t":60e6,"f":-5.45},{"t":60e6,"f":-5.52},{"t":60e6,"f":-5.59},
{"t":64e6,"f":-5.55},{"t":64e6,"f":-5.62},{"t":68e6,"f":-5.59},{"t":72e6,"f":-5.55},{"t":72e6,"f":-5.62},{"t":76e6,"f":-5.59},{"t":80e6,"f":-5.55},{"t":80e6,"f":-5.62},{"t":85e6,"f":-5.59},{"t":90e6,"f":-5.55},
{"t":96e6,"f":-5.31},{"t":96e6,"f":-5.38}
]
},
"layer":[
 {"data":{"name":"dense"},
  "mark":{"type":"point","shape":"M0,-1C0.304,-1,0.55,-0.552,0.55,0C0.55,0.552,0.304,1,0,1C-0.304,1,-0.55,0.552,-0.55,0C-0.55,-0.552,-0.304,-1,0,-1Z","filled":true,"color":"black","opacity":1,"size":90,"stroke":"black","strokeWidth":0.6},
  "encoding":{
   "x":{"field":"t","type":"quantitative","scale":{"type":"log","domain":[1e6,1.585e9],"nice":false},
        "axis":{"orient":"bottom","values":[1e6,1e7,1e8,1e9],"ticks":true,"tickSize":-13,"tickColor":"black","tickWidth":1,"labelPadding":29,"labelExpr":"datum.value < 5e6 ? '10⁶' : datum.value < 5e7 ? '10⁷' : datum.value < 5e8 ? '10⁸' : '10⁹'","title":"time (yr)","titleFontSize":20,"titleY":71,"titleBaseline":"alphabetic"}},
   "y":{"field":"f","type":"quantitative","scale":{"domain":[-6,0],"nice":false,"zero":false},
        "axis":{"orient":"left","values":[-6,-4,-2,0],"ticks":true,"tickSize":-7,"tickColor":"black","tickWidth":1,"labelPadding":18,"title":"[Fe/H]","titleFontSize":22,"titleX":-35,"titleY":311,"titleAngle":-90,"titleBaseline":"alphabetic","titleAlign":"center"}}
  }},
 {"data":{"name":"stars"},
  "mark":{"type":"point","shape":"M0,-1C0.304,-1,0.55,-0.552,0.55,0C0.55,0.552,0.304,1,0,1C-0.304,1,-0.55,0.552,-0.55,0C-0.55,-0.552,-0.304,-1,0,-1Z","filled":false,"color":"black","opacity":1,"size":44,"strokeWidth":1},
  "encoding":{
   "x":{"field":"t","type":"quantitative","scale":{"type":"log","domain":[1e6,1.585e9],"nice":false},
        "axis":{"orient":"bottom","values":[2e6,3e6,4e6,5e6,6e6,7e6,8e6,9e6,2e7,3e7,4e7,5e7,6e7,7e7,8e7,9e7,2e8,3e8,4e8,5e8,6e8,7e8,8e8,9e8],"ticks":true,"tickSize":-7,"tickColor":"black","tickWidth":1,"labels":false,"title":null}},
   "y":{"field":"f","type":"quantitative","scale":{"domain":[-6,0],"nice":false,"zero":false},
        "axis":{"orient":"left","values":[-5.5,-5,-4.5,-3.5,-3,-2.5,-1.5,-1,-0.5],"ticks":true,"tickSize":-4,"tickColor":"black","tickWidth":1,"labels":false,"title":null}}
  }},
 {"data":{"values":[{"label":"Monte Carlo model"}]},
  "mark":{"type":"text","align":"left","baseline":"alphabetic","font":"Liberation Serif","fontSize":24,"color":"black"},
  "encoding":{
   "x":{"datum":1.27e6,"type":"quantitative","scale":{"type":"log","domain":[1e6,1.585e9],"nice":false},
        "axis":{"orient":"top","values":[1e6,1e7,1e8,1e9],"ticks":true,"tickSize":-13,"tickColor":"black","tickWidth":1,"labels":false,"title":null}},
   "y":{"datum":-0.508,"type":"quantitative","scale":{"domain":[-6,0],"nice":false,"zero":false},
        "axis":{"orient":"right","values":[-6,-4,-2,0],"ticks":true,"tickSize":-7,"tickColor":"black","tickWidth":1,"labels":false,"title":null}},
   "text":{"field":"label"}
  }},
 {"data":{"values":[{"label":"frame"}]},
  "mark":{"type":"point","opacity":0},
  "encoding":{
   "x":{"datum":1e6,"type":"quantitative","scale":{"type":"log","domain":[1e6,1.585e9],"nice":false},
        "axis":{"orient":"top","values":[2e6,3e6,4e6,5e6,6e6,7e6,8e6,9e6,2e7,3e7,4e7,5e7,6e7,7e7,8e7,9e7,2e8,3e8,4e8,5e8,6e8,7e8,8e8,9e8],"ticks":true,"tickSize":-7,"tickColor":"black","tickWidth":1,"labels":false,"title":null}},
   "y":{"datum":-3,"type":"quantitative","scale":{"domain":[-6,0],"nice":false,"zero":false},
        "axis":{"orient":"right","values":[-5.5,-5,-4.5,-3.5,-3,-2.5,-1.5,-1,-0.5],"ticks":true,"tickSize":-4,"tickColor":"black","tickWidth":1,"labels":false,"title":null}}
  }}
],
"resolve":{"axis":{"x":"independent","y":"independent"}}
}
